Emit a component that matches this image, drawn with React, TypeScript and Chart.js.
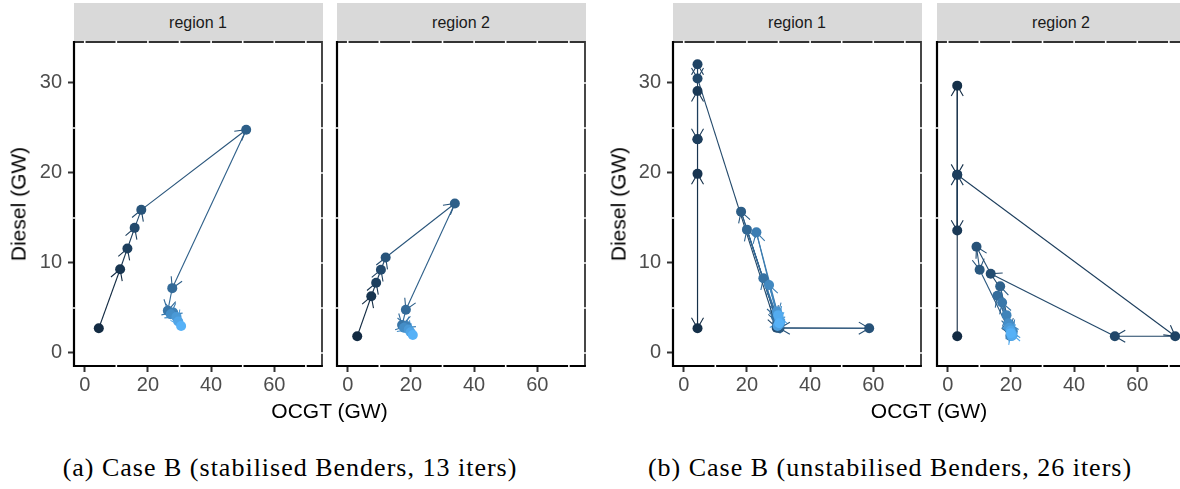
import React, { useEffect, useRef } from "react";
import { Chart, registerables } from "chart.js";

Chart.register(...registerables);

// ---------- data ----------
const X_TICKS = [0, 20, 40, 60];
const Y_TICKS = [0, 10, 20, 30];
const X_GRID = [0, 10, 20, 30, 40, 50, 60, 70];
const Y_GRID = [0, 5, 10, 15, 20, 25, 30];
const X_MINOR = [10, 30, 50, 70];
const Y_MINOR = [5, 15, 25];
const X_MIN = -3.4;
const X_MAX = 75.1;
const Y_MIN = -1.45;
const Y_MAX = 34.55;

const FACETS = ["region 1", "region 2"];
const X_TITLE = "OCGT (GW)";
const Y_TITLE = "Diesel (GW)";
const CAPTIONS = [
  "(a) Case B (stabilised Benders, 13 iters)",
  "(b) Case B (unstabilised Benders, 26 iters)",
];

// (a) stabilised Benders, 13 iterations
const A1_OCGT = [4.45, 11.2, 13.5, 15.8, 17.9, 51.1, 27.7, 26.3, 28.0, 27.2, 29.0, 29.6, 30.5];
const A1_DIESEL = [2.75, 9.3, 11.6, 13.9, 15.9, 24.8, 7.2, 4.7, 4.5, 4.3, 4.0, 3.5, 3.0];
const A2_OCGT = [3.0, 7.45, 9.0, 10.5, 12.0, 33.9, 18.4, 17.2, 18.6, 17.8, 19.3, 19.9, 20.6];
const A2_DIESEL = [1.86, 6.3, 7.8, 9.25, 10.6, 16.6, 4.8, 3.1, 3.0, 2.8, 2.6, 2.3, 2.0];

// (b) unstabilised Benders, 26 iterations
const B1_OCGT = [4.36, 4.36, 4.36, 4.36, 4.36, 4.36, 4.36, 29.4, 58.7, 30.3, 18.15, 29.6, 20.0,
  29.2, 25.2, 30.0, 23.0, 29.8, 27.0, 30.4, 29.5, 30.1, 29.7, 30.5, 29.9, 30.2];
const B1_DIESEL = [23.75, 2.75, 19.9, 29.1, 23.75, 32.07, 30.5, 2.8, 2.75, 2.75, 15.7, 3.4, 13.7,
  4.0, 8.3, 3.6, 13.4, 4.3, 7.55, 3.2, 4.6, 3.9, 3.0, 3.5, 4.2, 3.3];
const B2_OCGT = [3.0, 3.0, 3.0, 3.0, 3.0, 72.0, 52.9, 13.6, 9.1, 10.1, 20.2, 16.6, 19.6,
  15.7, 20.4, 17.2, 19.8, 18.6, 20.6, 19.2, 20.1, 19.5, 20.5, 19.9, 20.3, 20.0];
const B2_DIESEL = [1.86, 29.7, 19.8, 13.6, 19.8, 1.86, 1.86, 8.8, 11.8, 9.25, 2.0, 7.4, 2.6,
  6.35, 2.2, 5.6, 1.9, 4.2, 2.4, 3.3, 1.9, 2.8, 2.0, 2.5, 1.9, 2.2];

const LOW = "#132B43";
const HIGH = "#56B1F7";

// ---------- colour helpers (Lab interpolation like ggplot) ----------
function hexToRgb(h: string) {
  const n = parseInt(h.slice(1), 16);
  return [(n >> 16) & 255, (n >> 8) & 255, n & 255];
}
function srgbToLin(c: number) {
  c /= 255;
  return c <= 0.04045 ? c / 12.92 : Math.pow((c + 0.055) / 1.055, 2.4);
}
function linToSrgb(c: number) {
  const v = c <= 0.0031308 ? 12.92 * c : 1.055 * Math.pow(c, 1 / 2.4) - 0.055;
  return Math.round(Math.max(0, Math.min(1, v)) * 255);
}
function rgbToLab(rgb: number[]) {
  const R = srgbToLin(rgb[0]), G = srgbToLin(rgb[1]), B = srgbToLin(rgb[2]);
  const X = (0.4124 * R + 0.3576 * G + 0.1805 * B) / 0.95047;
  const Y = 0.2126 * R + 0.7152 * G + 0.0722 * B;
  const Z = (0.0193 * R + 0.1192 * G + 0.9505 * B) / 1.08883;
  const f = (t: number) => (t > 0.008856 ? Math.cbrt(t) : 7.787 * t + 16 / 116);
  const fx = f(X), fy = f(Y), fz = f(Z);
  return [116 * fy - 16, 500 * (fx - fy), 200 * (fy - fz)];
}
function labToHex(lab: number[]) {
  const fy = (lab[0] + 16) / 116, fx = fy + lab[1] / 500, fz = fy - lab[2] / 200;
  const fi = (t: number) => (t * t * t > 0.008856 ? t * t * t : (t - 16 / 116) / 7.787);
  const X = fi(fx) * 0.95047, Y = fi(fy), Z = fi(fz) * 1.08883;
  const R = 3.2406 * X - 1.5372 * Y - 0.4986 * Z;
  const G = -0.9689 * X + 1.8758 * Y + 0.0415 * Z;
  const B = 0.0557 * X - 0.204 * Y + 1.057 * Z;
  const h = (v: number) => linToSrgb(v).toString(16).padStart(2, "0");
  return "#" + h(R) + h(G) + h(B);
}
const LAB_LOW = rgbToLab(hexToRgb(LOW));
const LAB_HIGH = rgbToLab(hexToRgb(HIGH));
function iterColor(t: number) {
  return labToHex(LAB_LOW.map((v, i) => v + (LAB_HIGH[i] - v) * t));
}

const SANS = "'Liberation Sans', Arial, Helvetica, sans-serif";
const SERIF = "'Liberation Serif', 'Times New Roman', serif";

type PanelCfg = {
  ocgt: number[];
  diesel: number[];
  nIter: number;
  left: number;
  width: number;
  padL: number;
  padR: number;
  yWidth: number;
  showY: boolean;
};

const HEIGHT = 400;
const TOP = 42;
const XAXIS_H = 34;

function Panel(p: PanelCfg) {
  const ref = useRef<HTMLCanvasElement | null>(null);
  useEffect(() => {
    const colors = p.ocgt.map((_, i) => iterColor(i / (p.nIter - 1)));
    const data = p.ocgt.map((x, i) => ({ x, y: p.diesel[i] }));

    const framePlugin = {
      id: "frame",
      beforeDatasetsDraw(chart: any) {
        const { ctx, chartArea } = chart;
        const { left, right, top, bottom } = chartArea;
        const xs = chart.scales.x;
        const ys = chart.scales.y;
        ctx.save();
        ctx.lineCap = "butt";
        ctx.strokeStyle = "#333333";
        ctx.lineWidth = 1.8;
        ctx.beginPath();
        ctx.moveTo(left, top);
        ctx.lineTo(right, top);
        ctx.lineTo(right, bottom);
        ctx.stroke();
        ctx.strokeStyle = "#000000";
        ctx.lineWidth = 2.2;
        ctx.beginPath();
        ctx.moveTo(left, top - 0.9);
        ctx.lineTo(left, bottom);
        ctx.lineTo(right + 0.9, bottom);
        ctx.stroke();
        ctx.strokeStyle = "#ffffff";
        ctx.lineWidth = 1.6;
        ctx.beginPath();
        X_GRID.forEach((v) => {
          const px = xs.getPixelForValue(v);
          ctx.moveTo(px, top - 1.5);
          ctx.lineTo(px, top + 1.5);
        });
        Y_GRID.forEach((v) => {
          const py = ys.getPixelForValue(v);
          ctx.moveTo(right - 1.5, py);
          ctx.lineTo(right + 1.5, py);
        });
        X_MINOR.forEach((v) => {
          const px = xs.getPixelForValue(v);
          ctx.moveTo(px, bottom - 1.2);
          ctx.lineTo(px, bottom + 1.2);
        });
        Y_MINOR.forEach((v) => {
          const py = ys.getPixelForValue(v);
          ctx.moveTo(left - 1.2, py);
          ctx.lineTo(left + 1.2, py);
        });
        ctx.stroke();
        ctx.restore();
      },
    };

    const arrowPlugin = {
      id: "arrows",
      beforeDatasetsDraw(chart: any) {
        const { ctx } = chart;
        const pts = chart.getDatasetMeta(0).data;
        const L = 12;
        const ang = Math.PI / 6;
        ctx.save();
        ctx.lineWidth = 1.1;
        for (let i = 1; i < pts.length; i++) {
          const a = pts[i - 1], b = pts[i];
          const dx = b.x - a.x, dy = b.y - a.y;
          const len = Math.hypot(dx, dy);
          if (len < 0.01) continue;
          const ux = -dx / len, uy = -dy / len;
          const w1x = b.x + L * (ux * Math.cos(ang) - uy * Math.sin(ang));
          const w1y = b.y + L * (ux * Math.sin(ang) + uy * Math.cos(ang));
          const w2x = b.x + L * (ux * Math.cos(-ang) - uy * Math.sin(-ang));
          const w2y = b.y + L * (ux * Math.sin(-ang) + uy * Math.cos(-ang));
          ctx.strokeStyle = colors[i - 1];
          ctx.beginPath();
          ctx.moveTo(w1x, w1y);
          ctx.lineTo(b.x, b.y);
          ctx.lineTo(w2x, w2y);
          ctx.stroke();
        }
        ctx.restore();
      },
    };

    const tickFont = { family: SANS, size: 20 };

    const chart = new Chart(ref.current as HTMLCanvasElement, {
      type: "scatter",
      data: {
        datasets: [
          {
            data,
            showLine: true,
            borderWidth: 1.1,
            borderColor: colors[0],
            pointRadius: 5,
            pointHoverRadius: 5,
            pointBorderWidth: 0,
            pointBackgroundColor: colors,
            pointBorderColor: colors,
            segment: { borderColor: (c: any) => colors[c.p0DataIndex] },
          } as any,
        ],
      },
      options: {
        responsive: false,
        animation: false,
        events: [],
        layout: { padding: { left: p.padL, right: p.padR, top: TOP, bottom: 0 } },
        plugins: { legend: { display: false }, tooltip: { enabled: false } },
        scales: {
          x: {
            type: "linear",
            min: X_MIN,
            max: X_MAX,
            afterBuildTicks: (s: any) => {
              s.ticks = X_TICKS.map((v) => ({ value: v }));
            },
            afterFit: (s: any) => {
              s.height = XAXIS_H;
            },
            grid: { drawOnChartArea: false, tickLength: 6, tickWidth: 2, tickColor: "#333333" },
            border: { display: false },
            ticks: {
              font: tickFont,
              color: "#4d4d4d",
              padding: 1,
              maxRotation: 0,
              autoSkip: false,
              callback: (v: any) => String(v),
            },
          },
          y: p.showY
            ? {
                type: "linear",
                min: Y_MIN,
                max: Y_MAX,
                afterBuildTicks: (s: any) => {
                  s.ticks = Y_TICKS.map((v) => ({ value: v }));
                },
                afterFit: (s: any) => {
                  s.width = p.yWidth;
                },
                grid: { drawOnChartArea: false, tickLength: 6, tickWidth: 2, tickColor: "#333333" },
                border: { display: false },
                ticks: {
                  font: tickFont,
                  color: "#4d4d4d",
                  padding: 6,
                  autoSkip: false,
                  callback: (v: any) => String(v),
                },
              }
            : { type: "linear", min: Y_MIN, max: Y_MAX, display: false },
        },
      } as any,
      plugins: [framePlugin, arrowPlugin],
    });
    return () => chart.destroy();
  }, []);
  return (
    <canvas
      ref={ref}
      width={p.width}
      height={HEIGHT}
      style={{ position: "absolute", left: p.left, top: 0, width: p.width, height: HEIGHT }}
    />
  );
}

const PANELS: PanelCfg[] = [
  { ocgt: A1_OCGT, diesel: A1_DIESEL, nIter: 13, left: 0, width: 330, padL: 0, padR: 8, yWidth: 74, showY: true },
  { ocgt: A2_OCGT, diesel: A2_DIESEL, nIter: 13, left: 330, width: 260, padL: 7, padR: 5, yWidth: 0, showY: false },
  { ocgt: B1_OCGT, diesel: B1_DIESEL, nIter: 26, left: 590, width: 340, padL: 0, padR: 9, yWidth: 83, showY: true },
  { ocgt: B2_OCGT, diesel: B2_DIESEL, nIter: 26, left: 930, width: 260, padL: 7, padR: 5, yWidth: 0, showY: false },
];
const PANEL_LEFTS = [74, 337, 673, 937];
const GROUP_CENTERS = [329.5, 929];
const YTITLE_X = [18, 618];
const CAPTION_X = [290, 890];

export default function App() {
  return (
    <div
      style={{
        position: "absolute",
        left: 0,
        top: 0,
        width: 1180,
        height: 489,
        overflow: "hidden",
        background: "#ffffff",
      }}
    >
      {PANEL_LEFTS.map((l, i) => (
        <div
          key={"strip" + i}
          style={{
            position: "absolute",
            left: l - 0.5,
            top: 3,
            width: 249,
            height: 39,
            background: "#d9d9d9",
            color: "#1a1a1a",
            fontFamily: SANS,
            fontSize: 16,
            lineHeight: "39px",
            textAlign: "center",
          }}
        >
          {FACETS[i % 2]}
        </div>
      ))}
      {PANELS.map((p, i) => (
        <Panel key={"panel" + i} {...p} />
      ))}
      {[0, 1].map((g) => (
        <div
          key={"ytitle" + g}
          style={{
            position: "absolute",
            left: YTITLE_X[g],
            top: 204,
            transform: "translate(-50%, -50%) rotate(-90deg)",
            fontFamily: SANS,
            fontSize: 21,
            lineHeight: 1,
            whiteSpace: "nowrap",
            color: "#000",
          }}
        >
          {Y_TITLE}
        </div>
      ))}
      {[0, 1].map((g) => (
        <div
          key={"xtitle" + g}
          style={{
            position: "absolute",
            left: GROUP_CENTERS[g],
            top: 400,
            transform: "translateX(-50%)",
            fontFamily: SANS,
            fontSize: 21,
            lineHeight: 1,
            whiteSpace: "nowrap",
            color: "#000",
          }}
        >
          {X_TITLE}
        </div>
      ))}
      {[0, 1].map((g) => (
        <div
          key={"cap" + g}
          style={{
            position: "absolute",
            left: CAPTION_X[g],
            top: 455,
            transform: "translateX(-50%)",
            fontFamily: SERIF,
            fontSize: 26,
            letterSpacing: 1,
            lineHeight: 1,
            whiteSpace: "nowrap",
            color: "#000",
          }}
        >
          {CAPTIONS[g]}
        </div>
      ))}
    </div>
  );
}
